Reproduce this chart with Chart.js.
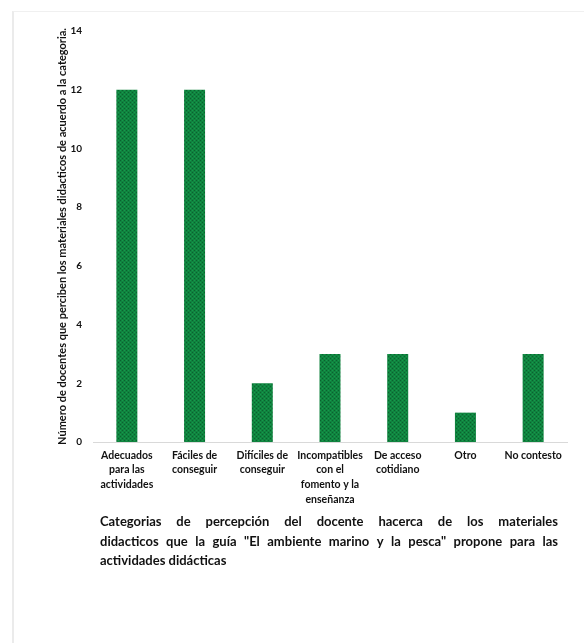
<!DOCTYPE html>
<html>
<head>
<meta charset="utf-8">
<script src="https://cdn.jsdelivr.net/npm/chart.js@4.4.1/dist/chart.umd.min.js"></script>
<style>
  html, body { margin: 0; padding: 0; background: #fff; }
  #wrap { position: relative; width: 584px; height: 643px; overflow: hidden; }
  #frame { position: absolute; left: 12px; top: 11px; width: 600px; height: 700px;
           border-left: 2px solid #ebebeb; border-top: 1px solid #f0f0f0; }
  #chart { position: absolute; left: 0; top: 0; }
</style>
</head>
<body>
<div id="wrap">
  <div id="frame"></div>
  <canvas id="chart" width="584" height="643"></canvas>
</div>
<script>
const categorias = [
  ["Adecuados", "para las", "actividades"],
  ["Fáciles de", "conseguir"],
  ["Difíciles de", "conseguir"],
  ["Incompatibles", "con el", "fomento y la", "enseñanza"],
  ["De acceso", "cotidiano"],
  ["Otro"],
  ["No contesto"]
];
const docentes = [12, 12, 2, 3, 3, 1, 3];
const tituloEjeY = "Número de docentes que perciben los materiales didacticos de acuerdo a la categoria.";
const tituloLineas = [
  "Categorias de percepción del docente hacerca de los materiales",
  "didacticos que la guía \"El ambiente marino y la pesca\" propone para las",
  "actividades didácticas"
];

// fine dotted green fill for the bars
function greenPattern(ctx) {
  const c = document.createElement("canvas");
  c.width = 4; c.height = 4;
  const p = c.getContext("2d");
  p.fillStyle = "#10833f"; p.fillRect(0, 0, 4, 4);
  p.fillStyle = "#0a6230";
  p.fillRect(0, 0, 1, 1); p.fillRect(2, 2, 1, 1);
  p.fillStyle = "#159a4c";
  p.fillRect(2, 0, 1, 1); p.fillRect(0, 2, 1, 1);
  return ctx.createPattern(c, "repeat");
}

// justified caption under the axis labels
const captionPlugin = {
  id: "caption",
  afterDraw(chart) {
    const ctx = chart.ctx;
    const left = chart.chartArea.left + 7;
    const right = chart.chartArea.right - 9;
    let y = 522;
    ctx.save();
    ctx.font = "bold 13px Lato";
    ctx.fillStyle = "#111";
    ctx.textBaseline = "middle";
    tituloLineas.forEach((line, i) => {
      const words = line.split(" ");
      const last = i === tituloLineas.length - 1;
      if (last) {
        ctx.fillText(line, left, y);
      } else {
        const total = words.reduce((s, w) => s + ctx.measureText(w).width, 0);
        const gap = (right - left - total) / (words.length - 1);
        let x = left;
        words.forEach(w => {
          ctx.fillText(w, x, y);
          x += ctx.measureText(w).width + gap;
        });
      }
      y += 19.5;
    });
    ctx.restore();
  }
};

const ctx = document.getElementById("chart").getContext("2d");
new Chart(ctx, {
  type: "bar",
  data: {
    labels: categorias,
    datasets: [{
      data: docentes,
      backgroundColor: greenPattern(ctx),
      borderWidth: 0,
      barPercentage: 0.62,
      categoryPercentage: 0.5
    }]
  },
  options: {
    responsive: false,
    animation: false,
    layout: { padding: { left: 52, right: 17, top: 31, bottom: 131 } },
    plugins: {
      legend: { display: false },
      tooltip: { enabled: false }
    },
    scales: {
      x: {
        grid: { display: false, drawTicks: false },
        border: { display: true, color: "#d9d9d9", width: 1 },
        ticks: {
          color: "#111",
          font: { family: "Lato", size: 10.5, weight: "bold", lineHeight: 1.4 },
          padding: 6,
          maxRotation: 0,
          autoSkip: false
        },
        afterFit(scale) { scale.height = 70; }
      },
      y: {
        min: 0,
        max: 14,
        grid: { display: false, drawTicks: false },
        border: { display: false },
        ticks: {
          stepSize: 2,
          color: "#111",
          font: { family: "Lato", size: 10, weight: "bold" },
          padding: 11
        },
        title: {
          display: true,
          text: tituloEjeY,
          color: "#111",
          font: { family: "Lato", size: 11, weight: "bold" },
          padding: { top: 4, bottom: 4 }
        },
        afterFit(scale) { scale.width = 41; }
      }
    }
  },
  plugins: [captionPlugin]
});
</script>
</body>
</html>
